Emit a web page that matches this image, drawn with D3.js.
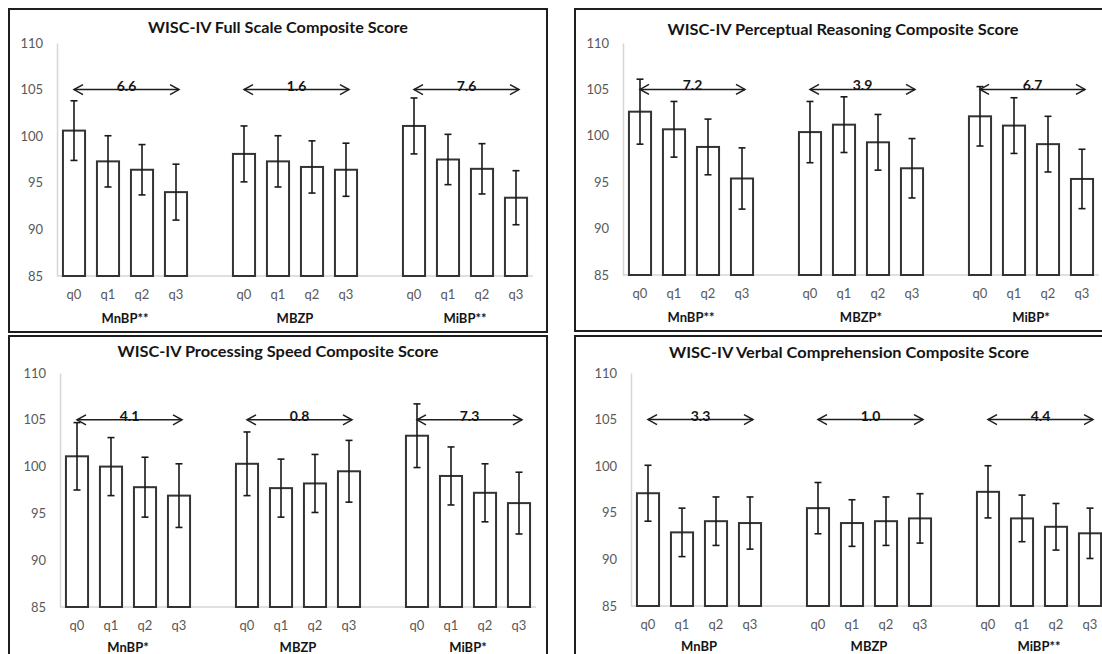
<!DOCTYPE html>
<html>
<head>
<meta charset="utf-8">
<script src="https://cdn.jsdelivr.net/npm/d3@7"></script>
<style>
  html, body { margin: 0; padding: 0; background: #fff; }
  svg { display: block; }
</style>
</head>
<body>
<svg id="chart" width="1102" height="654"></svg>
<script>
// ---------------- data ----------------
const quartiles = ["q0", "q1", "q2", "q3"];
const exposures = ["MnBP", "MBZP", "MiBP"];
const yTicks = [85, 90, 95, 100, 105, 110];

const titles = [
  "WISC-IV Full Scale Composite Score",
  "WISC-IV Perceptual Reasoning Composite Score",
  "WISC-IV Processing Speed Composite Score",
  "WISC-IV Verbal Comprehension Composite Score"
];

const fullScaleGroupLabels = ["MnBP**", "MBZP", "MiBP**"];
const perceptualGroupLabels = ["MnBP**", "MBZP*", "MiBP*"];
const speedGroupLabels = ["MnBP*", "MBZP", "MiBP*"];
const verbalGroupLabels = ["MnBP", "MBZP", "MiBP**"];

const fullScaleDiffs = ["6.6", "1.6", "7.6"];
const perceptualDiffs = ["7.2", "3.9", "6.7"];
const speedDiffs = ["4.1", "0.8", "7.3"];
const verbalDiffs = ["3.3", "1.0", "4.4"];

// means, ordered MnBP q0..q3, MBZP q0..q3, MiBP q0..q3
const fullScaleMeans = [100.6, 97.3, 96.4, 94.0, 98.1, 97.3, 96.7, 96.4, 101.1, 97.5, 96.5, 93.4];
const fullScaleErr   = [3.2, 2.75, 2.7, 3.0, 3.0, 2.75, 2.8, 2.85, 3.0, 2.7, 2.7, 2.9];

const perceptualMeans = [102.6, 100.7, 98.8, 95.4, 100.4, 101.2, 99.3, 96.5, 102.1, 101.1, 99.1, 95.35];
const perceptualErr   = [3.5, 3.0, 3.0, 3.3, 3.3, 3.0, 3.0, 3.2, 3.2, 3.0, 3.0, 3.2];

const speedMeans = [101.1, 100.0, 97.8, 96.9, 100.3, 97.7, 98.2, 99.5, 103.3, 99.0, 97.2, 96.1];
const speedErr   = [3.6, 3.1, 3.2, 3.4, 3.4, 3.1, 3.1, 3.3, 3.4, 3.1, 3.1, 3.3];

const verbalMeans = [97.1, 92.9, 94.1, 93.9, 95.5, 93.9, 94.1, 94.4, 97.25, 94.4, 93.5, 92.8];
const verbalErr   = [3.0, 2.6, 2.6, 2.8, 2.75, 2.5, 2.6, 2.65, 2.8, 2.5, 2.5, 2.7];

// ---------------- layout ----------------
const panels = [
  { title: titles[0], means: fullScaleMeans, err: fullScaleErr, groups: fullScaleGroupLabels, diffs: fullScaleDiffs,
    box: [9, 9, 538, 323], x0: 57, x1: 533, yTop: 43, yBot: 276, tx: 278, ty: 27, tw: 260 },
  { title: titles[1], means: perceptualMeans, err: perceptualErr, groups: perceptualGroupLabels, diffs: perceptualDiffs,
    box: [575, 9, 560, 322], x0: 623, x1: 1099, yTop: 43, yBot: 275, tx: 843, ty: 29, tw: 351 },
  { title: titles[2], means: speedMeans, err: speedErr, groups: speedGroupLabels, diffs: speedDiffs,
    box: [9, 336, 538, 340], x0: 60, x1: 536, yTop: 373, yBot: 607, tx: 278, ty: 351, tw: 321 },
  { title: titles[3], means: verbalMeans, err: verbalErr, groups: verbalGroupLabels, diffs: verbalDiffs,
    box: [575, 336, 560, 340], x0: 631, x1: 1107, yTop: 373, yBot: 606, tx: 849, ty: 352, tw: 360 }
];

const svg = d3.select("#chart");
const FONT = "Lato, 'Open Sans', sans-serif";

panels.forEach((p, pi) => {
  const g = svg.append("g");

  // slot keys: 4 bars per exposure with an empty slot between groups
  const keys = [];
  exposures.forEach((e, ei) => {
    quartiles.forEach(q => keys.push(e + "|" + q));
    if (ei < exposures.length - 1) keys.push("gap" + ei);
  });

  const x = d3.scaleBand().domain(keys).range([p.x0, p.x1]).paddingInner(0.35).paddingOuter(0.175);
  const y = d3.scaleLinear().domain([85, 110]).range([p.yBot, p.yTop]);

  const data = [];
  exposures.forEach((e, ei) => quartiles.forEach((q, qi) => {
    const i = ei * 4 + qi;
    data.push({ key: e + "|" + q, exposure: e, q, mean: p.means[i], err: p.err[i] });
  }));

  // panel border
  g.append("rect")
    .attr("x", p.box[0]).attr("y", p.box[1])
    .attr("width", p.box[2]).attr("height", p.box[3])
    .attr("fill", "none").attr("stroke", "#1e1e1e").attr("stroke-width", 2);

  // title
  g.append("text")
    .attr("x", p.tx).attr("y", p.ty)
    .attr("text-anchor", "middle").attr("dominant-baseline", "central")
    .attr("font-family", FONT).attr("font-weight", "bold").attr("font-size", 14.5)
    .attr("fill", "#151515")
    .attr("textLength", p.tw).attr("lengthAdjust", "spacingAndGlyphs")
    .text(p.title);

  // y axis
  const yAxis = d3.axisLeft(y).tickValues(yTicks).tickSize(0).tickPadding(14).tickFormat(d3.format("d"));
  const ya = g.append("g").attr("transform", `translate(${p.x0},0)`).call(yAxis);
  ya.select(".domain").attr("stroke", "#d6d6d6").attr("stroke-width", 1.5);
  ya.selectAll("text").attr("font-family", FONT).attr("font-size", 13).attr("fill", "#595959");

  // x axis (quartile labels)
  const xAxis = d3.axisBottom(x).tickSize(0).tickPadding(14)
    .tickFormat(d => d.startsWith("gap") ? "" : d.split("|")[1]);
  const xa = g.append("g").attr("transform", `translate(0,${p.yBot})`).call(xAxis);
  xa.select(".domain").attr("stroke", "#d6d6d6").attr("stroke-width", 1.5)
    .attr("d", `M${p.x0},0H${p.x1}`);
  xa.selectAll("text").attr("font-family", FONT).attr("font-size", 13).attr("fill", "#595959");

  // group labels
  exposures.forEach((e, ei) => {
    const c = (x(e + "|q0") + x(e + "|q3") + x.bandwidth()) / 2;
    g.append("text")
      .attr("x", c).attr("y", p.yBot + (pi < 2 ? 42 : 40))
      .attr("text-anchor", "middle").attr("dominant-baseline", "central")
      .attr("font-family", FONT).attr("font-weight", "bold").attr("font-size", 13)
      .attr("fill", "#151515")
      .text(p.groups[ei]);
  });

  // bars
  g.selectAll("rect.bar").data(data).join("rect")
    .attr("class", "bar")
    .attr("x", d => x(d.key)).attr("width", x.bandwidth())
    .attr("y", d => y(d.mean)).attr("height", d => p.yBot - y(d.mean))
    .attr("fill", "#fff").attr("stroke", "#333").attr("stroke-width", 2);

  // error bars
  const eb = g.selectAll("g.err").data(data).join("g").attr("class", "err")
    .attr("transform", d => `translate(${x(d.key) + x.bandwidth() / 2},0)`);
  eb.append("line").attr("y1", d => y(d.mean + d.err)).attr("y2", d => y(d.mean - d.err))
    .attr("stroke", "#1a1a1a").attr("stroke-width", 1.6);
  eb.append("line").attr("x1", -3.5).attr("x2", 3.5)
    .attr("y1", d => y(d.mean + d.err)).attr("y2", d => y(d.mean + d.err))
    .attr("stroke", "#1a1a1a").attr("stroke-width", 1.6);
  eb.append("line").attr("x1", -3.5).attr("x2", 3.5)
    .attr("y1", d => y(d.mean - d.err)).attr("y2", d => y(d.mean - d.err))
    .attr("stroke", "#1a1a1a").attr("stroke-width", 1.6);

  // difference arrows at the 105 level
  exposures.forEach((e, ei) => {
    const xa0 = x(e + "|q0") + x.bandwidth() / 2;
    const xa1 = x(e + "|q3") + x.bandwidth() / 2 + 3;
    const ya0 = y(105);
    const ag = g.append("g").attr("stroke", "#1e1e1e").attr("stroke-width", 1.5).attr("fill", "none");
    ag.append("line").attr("x1", xa0).attr("x2", xa1).attr("y1", ya0).attr("y2", ya0);
    ag.append("path").attr("d", `M${xa0 + 9},${ya0 - 5}L${xa0},${ya0}L${xa0 + 9},${ya0 + 5}`);
    ag.append("path").attr("d", `M${xa1 - 9},${ya0 - 5}L${xa1},${ya0}L${xa1 - 9},${ya0 + 5}`);
    g.append("text")
      .attr("x", (xa0 + xa1) / 2).attr("y", ya0 + 1)
      .attr("text-anchor", "middle")
      .attr("font-family", FONT).attr("font-weight", "bold").attr("font-size", 14)
      .attr("fill", "#151515")
      .text(p.diffs[ei]);
  });
});
</script>
</body>
</html>
